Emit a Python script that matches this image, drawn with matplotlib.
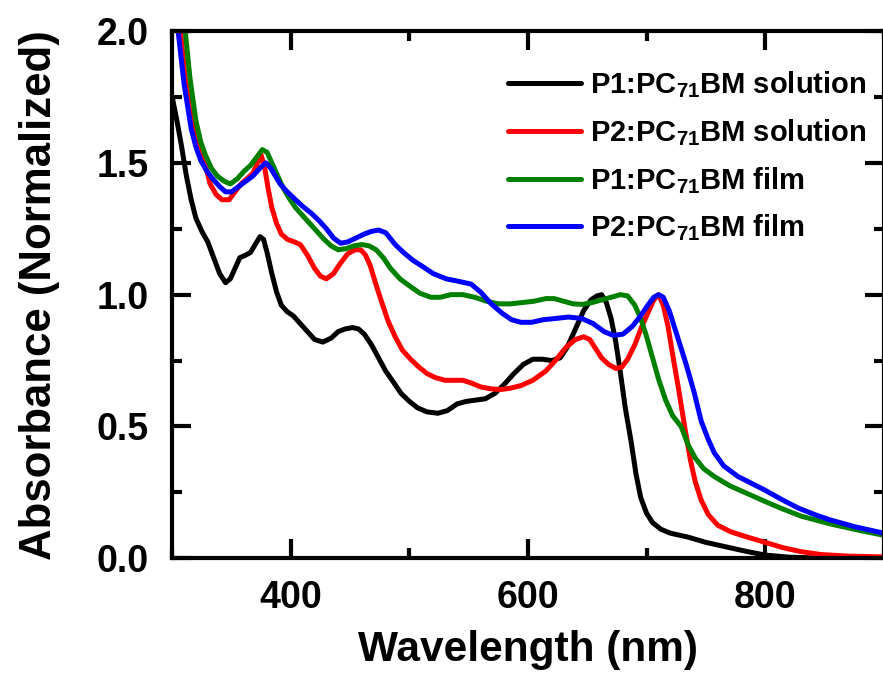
import numpy as np
import matplotlib
matplotlib.use("Agg")
from matplotlib import pyplot as plt
from matplotlib.ticker import MultipleLocator, FormatStrFormatter

plt.rcParams['font.family'] = ['Liberation Sans', 'DejaVu Sans']
plt.rcParams['font.weight'] = 'bold'
plt.rcParams['mathtext.fontset'] = 'custom'
plt.rcParams['mathtext.bf'] = 'Liberation Sans:bold'
plt.rcParams['mathtext.rm'] = 'Liberation Sans:bold'
plt.rcParams['mathtext.default'] = 'bf'

# P1:PC71BM solution (black)
wl_p1_sol = [300, 304, 308, 312, 316, 320, 325, 330, 335, 340, 345, 349, 353, 357, 362,
             366, 370, 374, 377, 380, 384, 388, 392, 397, 402, 408, 414, 420, 427, 434,
             440, 446, 452, 457, 462, 468, 474, 480, 487, 493, 500, 507, 515, 524, 532,
             540, 548, 556, 564, 572, 580, 588, 596, 604, 612, 620, 627, 633, 640, 647,
             653, 658, 662, 666, 670, 674, 678, 682, 687, 691, 695, 700, 705, 712, 720,
             735, 750, 770, 785, 800, 820, 850, 900]
abs_p1_sol = [1.75, 1.66, 1.56, 1.45, 1.36, 1.29, 1.24, 1.20, 1.14, 1.08, 1.045, 1.06,
              1.10, 1.14, 1.15, 1.16, 1.19, 1.22, 1.21, 1.16, 1.08, 1.01, 0.96, 0.935,
              0.92, 0.89, 0.86, 0.83, 0.82, 0.835, 0.86, 0.87, 0.875, 0.87, 0.85, 0.81,
              0.76, 0.71, 0.665, 0.625, 0.595, 0.57, 0.555, 0.55, 0.56, 0.585, 0.595,
              0.60, 0.605, 0.625, 0.66, 0.70, 0.735, 0.755, 0.755, 0.75, 0.76, 0.80,
              0.87, 0.94, 0.98, 0.995, 1.0, 0.97, 0.91, 0.82, 0.70, 0.57, 0.44, 0.32,
              0.23, 0.17, 0.135, 0.11, 0.095, 0.08, 0.06, 0.04, 0.025, 0.012, 0.004,
              0.0, 0.0]

# P2:PC71BM solution (red)
wl_p2_sol = [300, 304, 307, 311, 316, 320, 324, 328, 332, 337, 342, 348, 353, 358, 363,
             368, 372, 375, 378, 381, 384, 388, 392, 397, 403, 408, 414, 420, 425, 430,
             436, 442, 448, 454, 459, 463, 467, 471, 476, 482, 488, 494, 501, 508, 515,
             522, 530, 537, 545, 552, 560, 568, 577, 585, 594, 604, 615, 624, 632, 640,
             647, 652, 657, 662, 668, 674, 679, 684, 690, 696, 702, 706, 710, 714, 718,
             722, 727, 732, 737, 741, 746, 752, 760, 771, 785, 800, 815, 830, 847, 870,
             900]
abs_p2_sol = [2.3, 2.12, 2.0, 1.82, 1.68, 1.62, 1.56, 1.49, 1.42, 1.38, 1.36, 1.36,
              1.39, 1.42, 1.44, 1.46, 1.50, 1.53, 1.48, 1.40, 1.33, 1.27, 1.23, 1.21,
              1.20, 1.19, 1.15, 1.10, 1.07, 1.06, 1.08, 1.12, 1.155, 1.17, 1.17, 1.15,
              1.11, 1.05, 0.98, 0.90, 0.84, 0.79, 0.755, 0.725, 0.70, 0.685, 0.675,
              0.675, 0.675, 0.665, 0.65, 0.643, 0.64, 0.645, 0.655, 0.675, 0.71, 0.755,
              0.80, 0.83, 0.84, 0.83, 0.795, 0.76, 0.735, 0.72, 0.725, 0.755, 0.81,
              0.88, 0.94, 0.98, 1.0, 0.96, 0.88, 0.77, 0.64, 0.50, 0.37, 0.29, 0.22,
              0.165, 0.125, 0.10, 0.08, 0.06, 0.04, 0.025, 0.014, 0.008, 0.005]

# P1:PC71BM film (green)
wl_p1_film = [300, 305, 311, 315, 320, 324, 328, 333, 338, 344, 349, 355, 361, 366,
              371, 376, 380, 384, 388, 393, 398, 404, 410, 416, 422, 428, 434, 440,
              447, 453, 460, 466, 472, 478, 484, 492, 501, 509, 518, 526, 535, 545,
              555, 565, 575, 585, 595, 605, 615, 622, 630, 638, 646, 654, 662, 670,
              678, 684, 690, 695, 700, 705, 710, 716, 722, 729, 735, 741, 748, 757,
              770, 785, 800, 813, 830, 855, 880, 900]
abs_p1_film = [2.4, 2.2, 2.0, 1.82, 1.66, 1.58, 1.53, 1.48, 1.45, 1.43, 1.42, 1.44,
               1.47, 1.49, 1.52, 1.55, 1.54, 1.50, 1.46, 1.41, 1.37, 1.33, 1.30, 1.27,
               1.24, 1.21, 1.185, 1.17, 1.175, 1.185, 1.19, 1.185, 1.17, 1.14, 1.10,
               1.06, 1.03, 1.005, 0.99, 0.99, 1.0, 1.0, 0.99, 0.975, 0.965, 0.965,
               0.97, 0.975, 0.985, 0.985, 0.975, 0.965, 0.963, 0.97, 0.98, 0.99, 1.0,
               0.995, 0.96, 0.91, 0.84, 0.76, 0.68, 0.60, 0.54, 0.50, 0.43, 0.38, 0.34,
               0.31, 0.275, 0.245, 0.215, 0.19, 0.16, 0.13, 0.105, 0.087]

# P2:PC71BM film (blue)
wl_p2_film = [300, 305, 310, 316, 320, 324, 329, 334, 340, 345, 350, 356, 362, 368,
              374, 379, 383, 387, 391, 397, 404, 410, 417, 424, 430, 436, 442, 448,
              455, 462, 468, 474, 480, 488, 495, 503, 510, 520, 531, 542, 552, 560,
              569, 578, 586, 594, 603, 613, 624, 634, 645, 655, 664, 672, 680, 688,
              695, 701, 706, 710, 714, 719, 726, 733, 740, 746, 752, 757, 765, 777,
              788, 799, 815, 828, 842, 855, 875, 900]
abs_p2_film = [2.2, 2.0, 1.80, 1.63, 1.56, 1.51, 1.47, 1.44, 1.41, 1.39, 1.39, 1.41,
               1.43, 1.45, 1.48, 1.50, 1.48, 1.45, 1.42, 1.39, 1.36, 1.335, 1.31, 1.28,
               1.25, 1.215, 1.195, 1.20, 1.215, 1.23, 1.24, 1.245, 1.235, 1.19, 1.16,
               1.13, 1.11, 1.08, 1.06, 1.05, 1.04, 1.01, 0.965, 0.93, 0.905, 0.895,
               0.895, 0.905, 0.91, 0.915, 0.91, 0.89, 0.86, 0.845, 0.85, 0.88, 0.92,
               0.96, 0.99, 1.0, 0.99, 0.94, 0.84, 0.74, 0.63, 0.52, 0.45, 0.40, 0.35,
               0.31, 0.285, 0.26, 0.22, 0.19, 0.165, 0.145, 0.12, 0.095]

labels = [r"P1:PC$_{71}$BM solution", r"P2:PC$_{71}$BM solution",
          r"P1:PC$_{71}$BM film", r"P2:PC$_{71}$BM film"]
colors = ["black", "#ff0000", "#008000", "#0000ff"]

fig = plt.figure(figsize=(8.83, 6.75), dpi=100)
ax = fig.add_axes([0.195, 0.173, 0.806, 0.781])

series = [(wl_p1_sol, abs_p1_sol), (wl_p2_sol, abs_p2_sol),
          (wl_p1_film, abs_p1_film), (wl_p2_film, abs_p2_film)]
for (x, y), lab, c in zip(series, labels, colors):
    ax.plot(x, y, color=c, lw=3.6, label=lab, solid_joinstyle='round',
            solid_capstyle='round')

ax.set_xlim(300, 900)
ax.set_ylim(0, 2.0)
ax.xaxis.set_minor_locator(MultipleLocator(100))
ax.yaxis.set_major_locator(MultipleLocator(0.5))
ax.yaxis.set_minor_locator(MultipleLocator(0.25))
ax.set_xticks([400, 600, 800])
ax.yaxis.set_major_formatter(FormatStrFormatter('%.1f'))

for s in ax.spines.values():
    s.set_linewidth(3)
ax.tick_params(which='both', direction='in', top=True, right=True, width=3,
               labelsize=27)
ax.tick_params(axis='y', pad=17)
ax.tick_params(axis='x', pad=16)
ax.tick_params(which='major', length=14)
ax.tick_params(which='minor', length=7)
for t in ax.get_xticklabels() + ax.get_yticklabels():
    t.set_fontweight('bold')

ax.set_xlabel("Wavelength (nm)", fontsize=30.5, fontweight='bold', labelpad=10)
ax.set_ylabel("Absorbance (Normalized)", fontsize=31.5, fontweight='bold', labelpad=26)

leg = ax.legend(loc='upper right', bbox_to_anchor=(0.975, 0.927), frameon=False,
                fontsize=21, handlelength=2.5, handletextpad=0.3, labelspacing=0.58,
                borderpad=0, borderaxespad=0)
for t in leg.get_texts():
    t.set_fontweight('bold')

fig.savefig("out.png", dpi=100)
